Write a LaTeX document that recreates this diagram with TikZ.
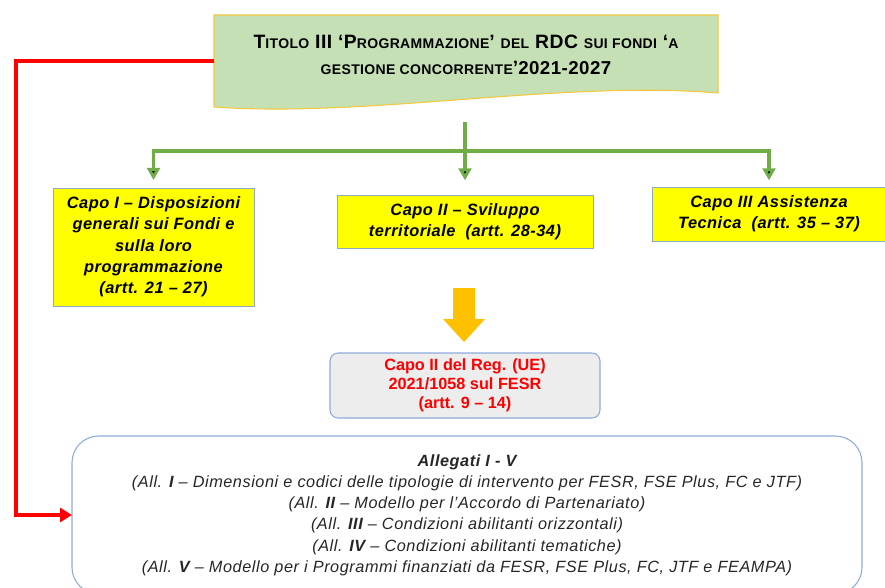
\documentclass[tikz,border=0pt]{standalone}
\usepackage{fontspec}
\setmainfont{Liberation Sans}
\usetikzlibrary{arrows.meta,backgrounds}
\definecolor{titlegreen}{HTML}{C5E0B4}
\definecolor{titlegold}{HTML}{F4C842}
\definecolor{capoyellow}{HTML}{FFFF00}
\definecolor{capoedge}{HTML}{8EA9C4}
\definecolor{linkgreen}{HTML}{70AD47}
\definecolor{blockorange}{HTML}{FFC000}
\definecolor{roundedge}{HTML}{8FAADC}
\definecolor{roundfill}{HTML}{EDEDED}
\newcommand\smc[1]{{\fontsize{10.5}{12}\selectfont #1}}

\begin{document}
\begin{tikzpicture}
  [x=0.75pt,y=-0.75pt,
   every node/.style={outer sep=0pt,inner sep=2pt,align=center},
   capo/.style={draw=capoedge,fill=capoyellow,
     font=\fontsize{12.3}{16}\selectfont\bfseries\itshape\addfontfeatures{LetterSpace=3}},
   link/.style={draw=linkgreen,line width=2.3pt},
   redlink/.style={draw=red,line width=2.3pt,-{Triangle[width=10.5pt,length=9pt]}}]
  \useasboundingbox (0,0) rectangle (885,588);
  \clip (0,0) rectangle (885,588);

  \node (title) at (466,61) [minimum width=378pt,minimum height=69pt] {};
  \begin{scope}[on background layer]
    \filldraw[fill=titlegreen,draw=titlegold,line width=0.8pt]
      (title.north west) -- (title.north east) -- ([shift={(0,-14)}]title.south east)
      .. controls ([shift={(-158,-27)}]title.south east) and ([shift={(156,11)}]title.south west) .. (title.south west) -- cycle;
  \end{scope}
  \node (titletext) at (466,55) [font=\fontsize{14.5}{19}\selectfont\bfseries\addfontfeatures{LetterSpace=2.5}]
    {T\smc{ITOLO} III ‘P\smc{ROGRAMMAZIONE}’ \smc{DEL} RDC \smc{SUI FONDI} ‘\smc{A}\\
     \smc{GESTIONE CONCORRENTE}’{\fontsize{14}{19}\selectfont 2021-2027}};

  \node[capo,minimum width=150.75pt,minimum height=88.5pt] (capo1) at (153.5,247)
    {Capo I – Disposizioni\\generali sui Fondi e\\sulla loro\\programmazione\\(artt. 21 – 27)};
  \node[capo,minimum width=192pt,minimum height=39.75pt] (capo2) at (465,221.5)
    {Capo II – Sviluppo\\territoriale \ (artt. 28-34)};
  \node[capo,minimum width=175.5pt,minimum height=40.5pt] (capo3) at (769,214)
    {Capo III Assistenza\\Tecnica \ (artt. 35 – 37)};

  \node[draw=roundedge,fill=roundfill,rounded corners=6pt,line width=0.8pt,
        minimum width=202.5pt,minimum height=48.75pt,text=red,
        font=\fontsize{12.2}{14.3}\selectfont\bfseries] (fesr) at (465,385.5)
    {Capo II del Reg. (UE)\\2021/1058 sul FESR\\(artt. 9 – 14)};

  \node[draw=roundedge,rounded corners=20pt,line width=0.8pt,
        minimum width=592.5pt,minimum height=118.5pt,text=black!85,
        font=\fontsize{12.2}{15.9}\selectfont\itshape\addfontfeatures{LetterSpace=3.5}] (allegati) at (467,515)
    {\textbf{Allegati I - V}\\
     (All. \textbf{I} – Dimensioni e codici delle tipologie di intervento per FESR, FSE Plus, FC e JTF)\\
     (All. \textbf{II} – Modello per l’Accordo di Partenariato)\\
     (All. \textbf{III} – Condizioni abilitanti orizzontali)\\
     (All. \textbf{IV} – Condizioni abilitanti tematiche)\\
     (All. \textbf{V} – Modello per i Programmi finanziati da FESR, FSE Plus, FC, JTF e FEAMPA)};

  \coordinate (gtop) at (465,122);
  \coordinate (gbar) at (465,151);
  \path[link]
    (gtop) edge (gbar)
    (gbar) edge[-{Triangle[width=9.5pt,length=9pt]},shorten >=6pt,to path={-| (\tikztotarget)}] (capo1.north)
    (gbar) edge[-{Triangle[width=9.5pt,length=9pt]},shorten >=11pt] (capo2.north)
    (gbar) edge[-{Triangle[width=9.5pt,length=9pt]},shorten >=5pt,to path={-| (\tikztotarget)}] (capo3.north);

  \fill[blockorange] (453,288) -- (475,288) -- (475,319) -- (485,319) -- (464,342)
    -- (443,319) -- (453,319) -- cycle;

  \draw[redlink] (title.west) -- ++(-198,0) |- (allegati.west);
\end{tikzpicture}
\end{document}
